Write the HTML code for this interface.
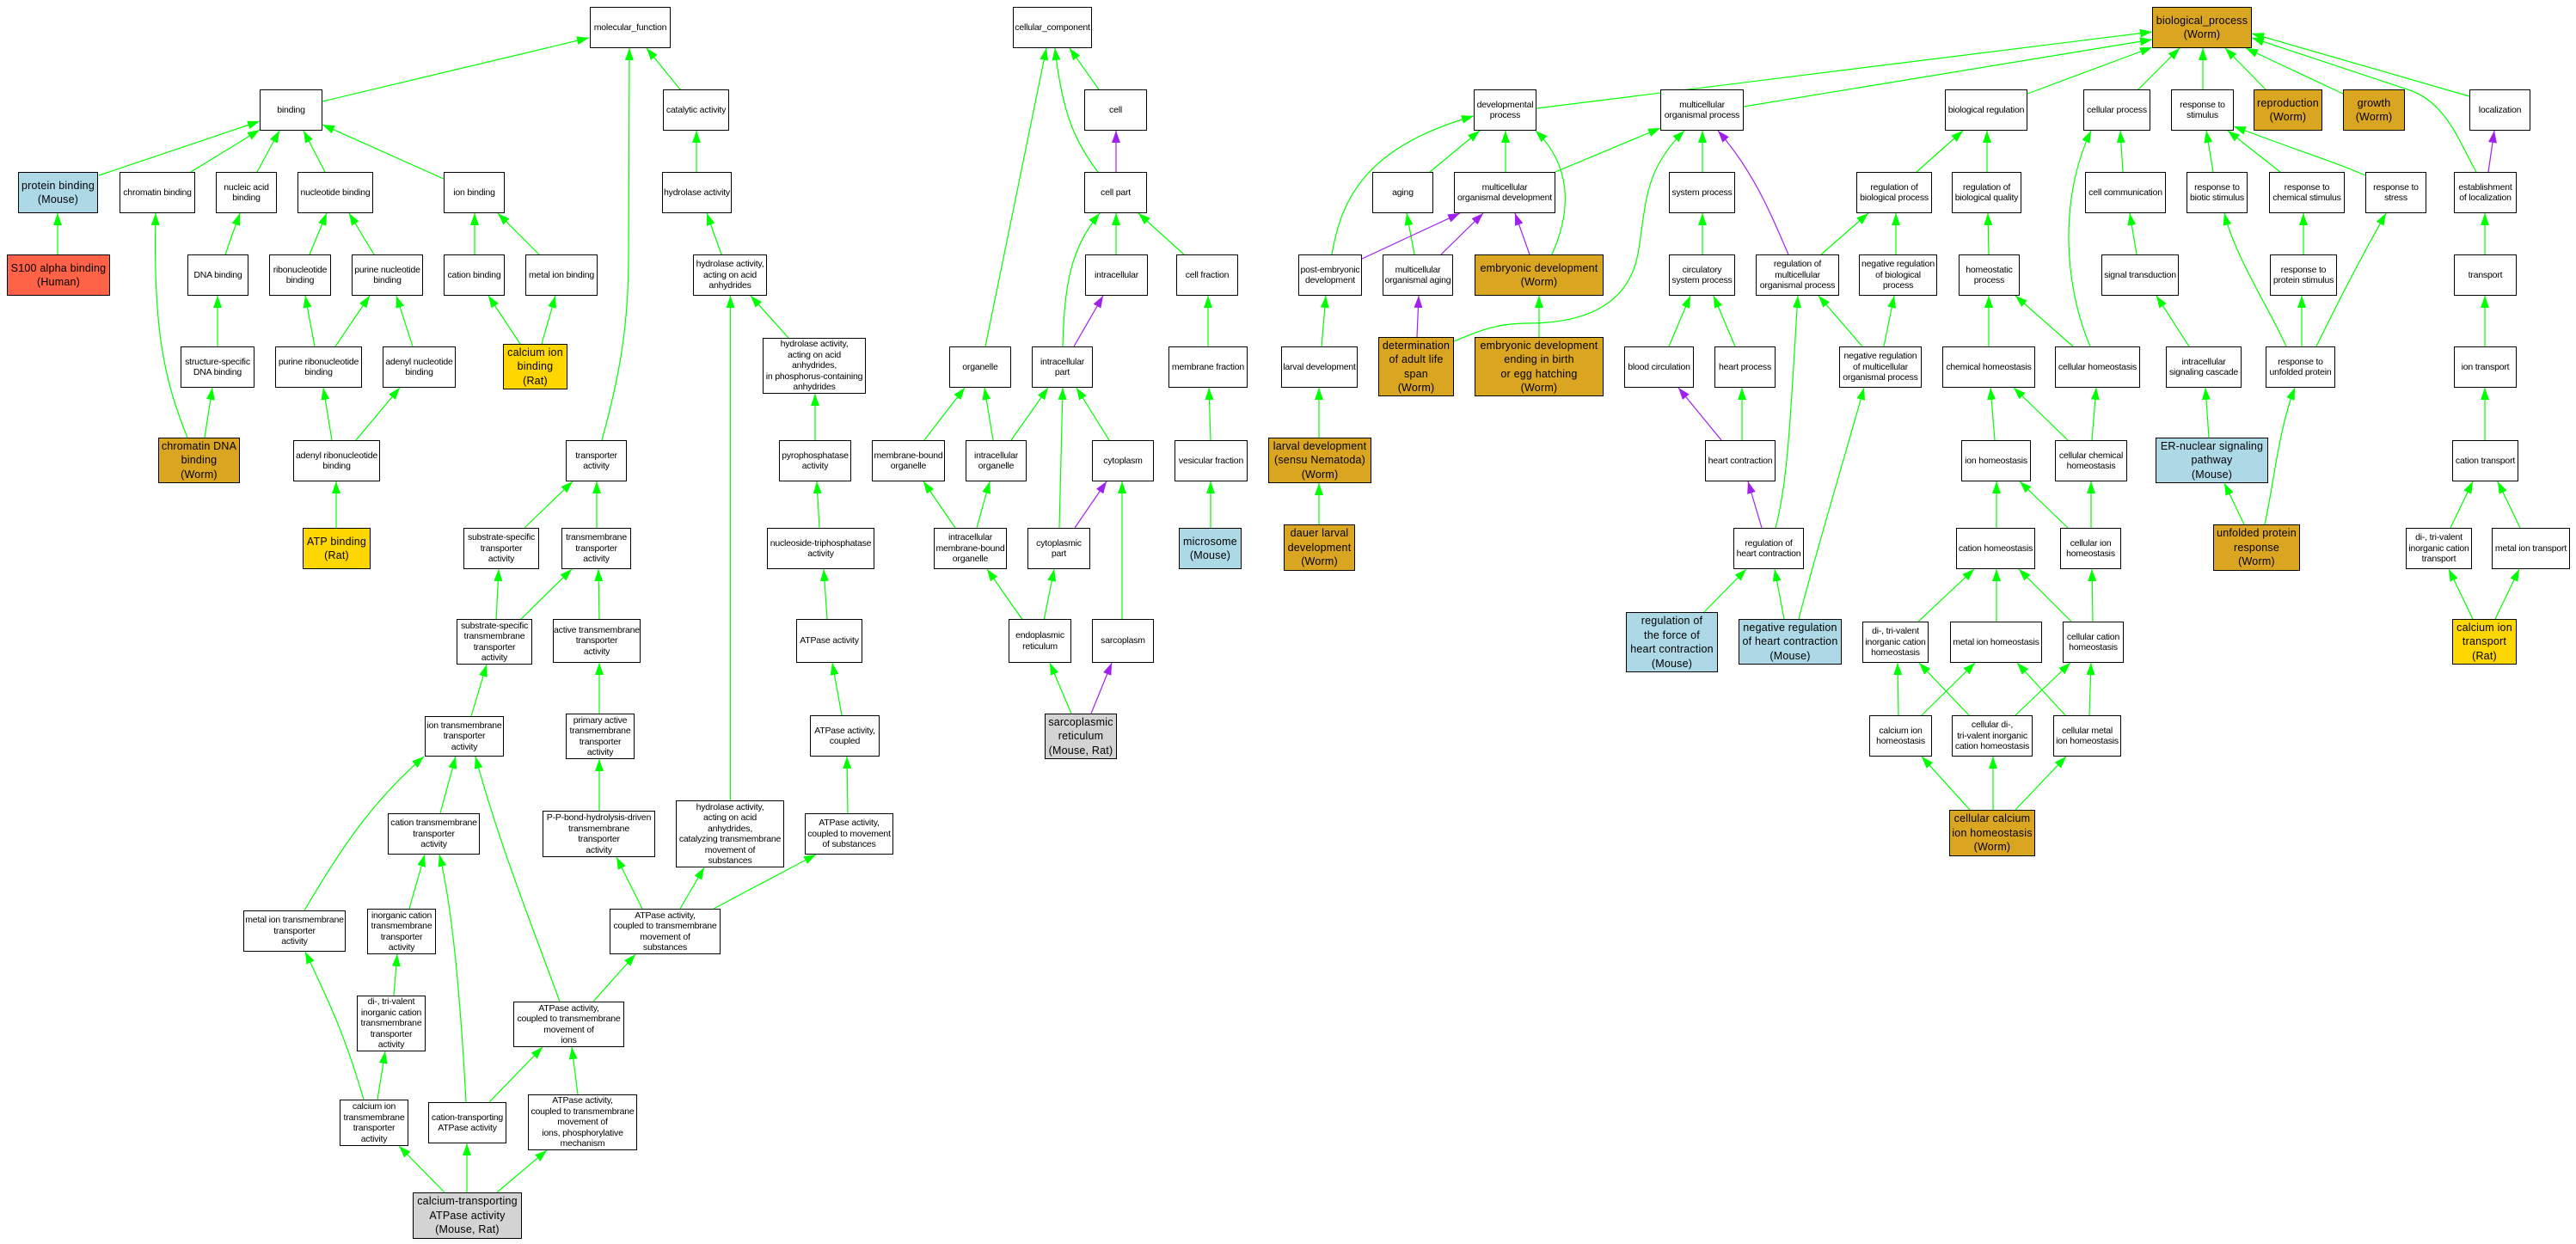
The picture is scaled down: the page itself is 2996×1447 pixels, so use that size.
<!DOCTYPE html>
<html><head><meta charset="utf-8"><style>
html,body{margin:0;padding:0;background:#fff;}
#c{position:relative;width:2996px;height:1447px;overflow:hidden;background:#fff;}
svg{position:absolute;left:0;top:0;}
.n{position:absolute;box-sizing:border-box;border:1px solid #000;background:#fff;display:flex;align-items:center;justify-content:center;text-align:center;font-family:"Liberation Sans",Arial,sans-serif;font-size:10.5px;line-height:12.5px;white-space:nowrap;color:#000;letter-spacing:-0.2px;}
.b{font-size:12.5px;line-height:16.5px;letter-spacing:0.2px;border-width:1.5px;}
.lb{background:#add8e6}.tm{background:#ff6347}.gd{background:#ffd700}.gr{background:#daa520}.lg{background:#d3d3d3}
</style></head><body><div id="c">
<svg width="2996" height="1447" viewBox="0 0 2996 1447">
<defs>
<marker id="g" markerUnits="userSpaceOnUse" markerWidth="14" markerHeight="10" refX="14" refY="5" orient="auto"><path d="M0,0 L14,5 L0,10 z" fill="#00ff00"/></marker>
<marker id="p" markerUnits="userSpaceOnUse" markerWidth="14" markerHeight="10" refX="14" refY="5" orient="auto"><path d="M0,0 L14,5 L0,10 z" fill="#a020f0"/></marker>
</defs>
<g fill="none" stroke="#00ff00" stroke-width="1.2" marker-end="url(#g)">
<path d="M375,118 L685,44"/>
<path d="M115,204 L302,141"/>
<path d="M222,200 L302,151"/>
<path d="M299,200 L325,152"/>
<path d="M378,200 L353,152"/>
<path d="M516,208 L375,145"/>
<path d="M67,296 L67,248"/>
<path d="M262,296 L279,248"/>
<path d="M360,296 L380,248"/>
<path d="M435,296 L406,248"/>
<path d="M552,296 L552,248"/>
<path d="M627,296 L579,248"/>
<path d="M218,509 C190,440 178,380 181,248"/>
<path d="M253,403 L253,344"/>
<path d="M238,509 L247,451"/>
<path d="M366,403 L355,344"/>
<path d="M390,403 L430,344"/>
<path d="M480,403 L461,344"/>
<path d="M605,400 L568,344"/>
<path d="M630,400 L646,344"/>
<path d="M386,512 L376,451"/>
<path d="M414,512 L465,451"/>
<path d="M391,614 L391,560"/>
<path d="M700,512 C720,440 731,380 731,300 L732,56"/>
<path d="M610,614 L666,560"/>
<path d="M694,614 L694,560"/>
<path d="M577,722 L580,662"/>
<path d="M604,722 L665,662"/>
<path d="M697,722 L696,662"/>
<path d="M791,104 L752,56"/>
<path d="M810,200 L810,152"/>
<path d="M839,296 L822,248"/>
<path d="M917,393 L873,344"/>
<path d="M849.5,931 L849.5,344"/>
<path d="M948,512 L948,458"/>
<path d="M953,614 L950,560"/>
<path d="M962,720 L958,662"/>
<path d="M1278,104 L1244,56"/>
<path d="M1146,403 L1217,56"/>
<path d="M1277,200 C1250,165 1235,130 1227,56"/>
<path d="M1298,296 L1298,248"/>
<path d="M1377,296 L1324,248"/>
<path d="M1236,403 C1238,330 1245,290 1279,248"/>
<path d="M1405,403 L1405,344"/>
<path d="M1075,512 L1122,451"/>
<path d="M1155,512 L1145,451"/>
<path d="M1176,512 L1219,451"/>
<path d="M1232,614 L1236,451"/>
<path d="M1290,512 L1252,451"/>
<path d="M1408,512 L1406,451"/>
<path d="M1111,614 L1074,560"/>
<path d="M1136,614 L1151,560"/>
<path d="M1408,614 L1408,560"/>
<path d="M1190,722 L1148,662"/>
<path d="M1214,722 L1226,662"/>
<path d="M1305,720 L1305,560"/>
<path d="M979,832 L968,771"/>
<path d="M1246,830 L1221,771"/>
<path d="M986,946 L985,880"/>
<path d="M791,1057 L819,1009"/>
<path d="M830,1057 L949,994"/>
<path d="M548,833 L566,773"/>
<path d="M697,830 L697,771"/>
<path d="M697,943 L697,883"/>
<path d="M512,946 L530,880"/>
<path d="M749,1061 L717,997"/>
<path d="M354,1059 C395,990 430,935 493,880"/>
<path d="M476,1057 L494,994"/>
<path d="M651,1165 C620,1080 580,980 553,880"/>
<path d="M690,1165 L739,1110"/>
<path d="M458,1158 L462,1110"/>
<path d="M423,1279 C400,1200 380,1160 355,1107"/>
<path d="M439,1279 L448,1223"/>
<path d="M542,1282 C535,1150 525,1050 511,994"/>
<path d="M569,1282 L631,1218"/>
<path d="M672,1273 L665,1218"/>
<path d="M517,1387 L464,1333"/>
<path d="M543,1387 L543,1330"/>
<path d="M578,1387 L636,1338"/>
<path d="M1787,126 L2503,37"/>
<path d="M2028,124 L2503,46"/>
<path d="M1663,200 L1721,152"/>
<path d="M1751,200 L1751,152"/>
<path d="M1809,200 L1931,149"/>
<path d="M1549,296 C1560,230 1590,170 1714,135"/>
<path d="M1645,296 L1636,248"/>
<path d="M1805,296 C1830,240 1825,190 1786,152"/>
<path d="M1980,200 L1980,152"/>
<path d="M1691,397 C1720,385 1740,376 1777,376 C1850,376 1895,350 1905,295 C1915,240 1910,200 1959,152"/>
<path d="M1790,392 L1790,344"/>
<path d="M1537,403 L1542,344"/>
<path d="M1534,509 L1534,451"/>
<path d="M1534,610 L1534,562"/>
<path d="M1980,296 L1980,248"/>
<path d="M1941,403 L1966,344"/>
<path d="M2018,403 L1993,344"/>
<path d="M2026,512 L2026,451"/>
<path d="M2065,614 C2080,560 2083,470 2091,344"/>
<path d="M2118,296 L2173,248"/>
<path d="M2205,296 L2205,248"/>
<path d="M2166,403 L2115,344"/>
<path d="M2191,403 L2203,344"/>
<path d="M2229,200 L2283,152"/>
<path d="M1982,712 L2031,662"/>
<path d="M2075,720 L2064,662"/>
<path d="M2092,720 C2110,650 2140,550 2168,451"/>
<path d="M2231,723 L2296,662"/>
<path d="M2208,832 L2207,771"/>
<path d="M2235,832 L2297,771"/>
<path d="M2291,942 L2235,880"/>
<path d="M2318,942 L2318,880"/>
<path d="M2344,942 L2403,880"/>
<path d="M2322,723 L2322,662"/>
<path d="M2409,723 L2348,662"/>
<path d="M2434,723 L2433,662"/>
<path d="M2290,832 L2232,771"/>
<path d="M2344,832 L2408,771"/>
<path d="M2402,832 L2346,771"/>
<path d="M2430,832 L2432,771"/>
<path d="M2322,614 L2322,560"/>
<path d="M2405,614 L2349,560"/>
<path d="M2432,614 L2432,560"/>
<path d="M2610,610 L2587,562"/>
<path d="M2634,610 C2645,560 2650,500 2669,451"/>
<path d="M2850,614 L2876,560"/>
<path d="M2931,614 L2905,560"/>
<path d="M2876,720 L2848,662"/>
<path d="M2902,720 L2930,662"/>
<path d="M2358,109 L2503,55"/>
<path d="M2487,104 L2535,56"/>
<path d="M2562,104 L2562,56"/>
<path d="M2635,104 L2588,56"/>
<path d="M2725,109 L2612,56"/>
<path d="M2872,112 L2619,39"/>
<path d="M2880,200 C2860,165 2845,118 2800,104 L2619,44"/>
<path d="M2311,200 L2311,152"/>
<path d="M2469,200 L2466,152"/>
<path d="M2574,200 L2566,152"/>
<path d="M2652,200 L2591,152"/>
<path d="M2751,204 C2720,190 2680,178 2598,147"/>
<path d="M2313,296 L2312,248"/>
<path d="M2485,296 L2477,248"/>
<path d="M2679,296 L2679,248"/>
<path d="M2890,296 L2890,248"/>
<path d="M2313,403 L2313,344"/>
<path d="M2411,403 L2344,344"/>
<path d="M2431,403 C2400,330 2395,230 2432,152"/>
<path d="M2546,403 L2508,344"/>
<path d="M2659,403 C2640,360 2600,300 2587,248"/>
<path d="M2677,403 L2677,344"/>
<path d="M2694,403 C2710,370 2740,310 2775,248"/>
<path d="M2890,403 L2890,344"/>
<path d="M2320,512 L2315,451"/>
<path d="M2405,512 L2342,451"/>
<path d="M2433,512 L2438,451"/>
<path d="M2569,509 L2565,451"/>
<path d="M2890,512 L2890,451"/>
</g>
<g fill="none" stroke="#a020f0" stroke-width="1.2" marker-end="url(#p)">
<path d="M1298,200 L1298,152"/>
<path d="M1249,403 L1283,344"/>
<path d="M1250,614 L1287,560"/>
<path d="M1269,830 L1293,771"/>
<path d="M1584,301 L1698,248"/>
<path d="M1676,296 L1725,248"/>
<path d="M1779,296 L1762,248"/>
<path d="M2080,296 C2060,250 2040,200 1998,152"/>
<path d="M1648,392 L1650,344"/>
<path d="M2002,512 L1952,451"/>
<path d="M2049,614 L2033,560"/>
<path d="M2894,200 L2901,152"/>
</g>
</svg>

<div class="n" style="left:686px;top:8px;width:94px;height:48px">molecular_function</div>
<div class="n" style="left:302px;top:104px;width:73px;height:48px">binding</div>
<div class="n" style="left:139px;top:200px;width:88px;height:48px">chromatin binding</div>
<div class="n" style="left:251px;top:200px;width:71px;height:48px">nucleic acid<br>binding</div>
<div class="n" style="left:346px;top:200px;width:88px;height:48px">nucleotide binding</div>
<div class="n" style="left:516px;top:200px;width:71px;height:48px">ion binding</div>
<div class="n" style="left:218px;top:296px;width:71px;height:48px">DNA binding</div>
<div class="n" style="left:313px;top:296px;width:72px;height:48px">ribonucleotide<br>binding</div>
<div class="n" style="left:409px;top:296px;width:83px;height:48px">purine nucleotide<br>binding</div>
<div class="n" style="left:516px;top:296px;width:71px;height:48px">cation binding</div>
<div class="n" style="left:611px;top:296px;width:84px;height:48px">metal ion binding</div>
<div class="n" style="left:210px;top:403px;width:86px;height:48px">structure-specific<br>DNA binding</div>
<div class="n" style="left:320px;top:403px;width:101px;height:48px">purine ribonucleotide<br>binding</div>
<div class="n" style="left:445px;top:403px;width:85px;height:48px">adenyl nucleotide<br>binding</div>
<div class="n" style="left:341px;top:512px;width:101px;height:48px">adenyl ribonucleotide<br>binding</div>
<div class="n" style="left:658px;top:512px;width:71px;height:48px">transporter<br>activity</div>
<div class="n" style="left:539px;top:614px;width:88px;height:48px">substrate-specific<br>transporter<br>activity</div>
<div class="n" style="left:653px;top:614px;width:81px;height:48px">transmembrane<br>transporter<br>activity</div>
<div class="n" style="left:531px;top:720px;width:88px;height:53px">substrate-specific<br>transmembrane<br>transporter<br>activity</div>
<div class="n" style="left:643px;top:720px;width:102px;height:51px">active transmembrane<br>transporter<br>activity</div>
<div class="n" style="left:494px;top:833px;width:92px;height:47px">ion transmembrane<br>transporter<br>activity</div>
<div class="n" style="left:658px;top:830px;width:80px;height:53px">primary active<br>transmembrane<br>transporter<br>activity</div>
<div class="n" style="left:451px;top:946px;width:107px;height:48px">cation transmembrane<br>transporter<br>activity</div>
<div class="n" style="left:631px;top:943px;width:131px;height:54px">P-P-bond-hydrolysis-driven<br>transmembrane<br>transporter<br>activity</div>
<div class="n" style="left:283px;top:1059px;width:119px;height:48px">metal ion transmembrane<br>transporter<br>activity</div>
<div class="n" style="left:427px;top:1057px;width:80px;height:53px">inorganic cation<br>transmembrane<br>transporter<br>activity</div>
<div class="n" style="left:709px;top:1057px;width:129px;height:53px">ATPase activity,<br>coupled to transmembrane<br>movement of<br>substances</div>
<div class="n" style="left:415px;top:1158px;width:80px;height:65px">di-, tri-valent<br>inorganic cation<br>transmembrane<br>transporter<br>activity</div>
<div class="n" style="left:597px;top:1165px;width:129px;height:53px">ATPase activity,<br>coupled to transmembrane<br>movement of<br>ions</div>
<div class="n" style="left:395px;top:1279px;width:80px;height:54px">calcium ion<br>transmembrane<br>transporter<br>activity</div>
<div class="n" style="left:498px;top:1282px;width:91px;height:48px">cation-transporting<br>ATPase activity</div>
<div class="n" style="left:614px;top:1273px;width:127px;height:65px">ATPase activity,<br>coupled to transmembrane<br>movement of<br>ions, phosphorylative<br>mechanism</div>
<div class="n" style="left:771px;top:104px;width:77px;height:48px">catalytic activity</div>
<div class="n" style="left:770px;top:200px;width:81px;height:48px">hydrolase activity</div>
<div class="n" style="left:806px;top:296px;width:86px;height:48px">hydrolase activity,<br>acting on acid<br>anhydrides</div>
<div class="n" style="left:887px;top:393px;width:120px;height:65px">hydrolase activity,<br>acting on acid<br>anhydrides,<br>in phosphorus-containing<br>anhydrides</div>
<div class="n" style="left:906px;top:512px;width:84px;height:48px">pyrophosphatase<br>activity</div>
<div class="n" style="left:892px;top:614px;width:125px;height:48px">nucleoside-triphosphatase<br>activity</div>
<div class="n" style="left:926px;top:720px;width:77px;height:51px">ATPase activity</div>
<div class="n" style="left:942px;top:832px;width:81px;height:48px">ATPase activity,<br>coupled</div>
<div class="n" style="left:786px;top:931px;width:126px;height:78px">hydrolase activity,<br>acting on acid<br>anhydrides,<br>catalyzing transmembrane<br>movement of<br>substances</div>
<div class="n" style="left:936px;top:946px;width:103px;height:48px">ATPase activity,<br>coupled to movement<br>of substances</div>
<div class="n" style="left:1178px;top:8px;width:92px;height:48px">cellular_component</div>
<div class="n" style="left:1261px;top:104px;width:73px;height:48px">cell</div>
<div class="n" style="left:1261px;top:200px;width:73px;height:48px">cell part</div>
<div class="n" style="left:1262px;top:296px;width:73px;height:48px">intracellular</div>
<div class="n" style="left:1368px;top:296px;width:72px;height:48px">cell fraction</div>
<div class="n" style="left:1104px;top:403px;width:72px;height:48px">organelle</div>
<div class="n" style="left:1200px;top:403px;width:71px;height:48px">intracellular<br>part</div>
<div class="n" style="left:1359px;top:403px;width:92px;height:48px">membrane fraction</div>
<div class="n" style="left:1014px;top:512px;width:85px;height:48px">membrane-bound<br>organelle</div>
<div class="n" style="left:1123px;top:512px;width:71px;height:48px">intracellular<br>organelle</div>
<div class="n" style="left:1270px;top:512px;width:72px;height:48px">cytoplasm</div>
<div class="n" style="left:1366px;top:512px;width:85px;height:48px">vesicular fraction</div>
<div class="n" style="left:1086px;top:614px;width:85px;height:48px">intracellular<br>membrane-bound<br>organelle</div>
<div class="n" style="left:1195px;top:614px;width:73px;height:48px">cytoplasmic<br>part</div>
<div class="n" style="left:1173px;top:720px;width:73px;height:51px">endoplasmic<br>reticulum</div>
<div class="n" style="left:1270px;top:720px;width:72px;height:51px">sarcoplasm</div>
<div class="n" style="left:1714px;top:104px;width:73px;height:48px">developmental<br>process</div>
<div class="n" style="left:1931px;top:104px;width:97px;height:48px">multicellular<br>organismal process</div>
<div class="n" style="left:1596px;top:200px;width:71px;height:48px">aging</div>
<div class="n" style="left:1691px;top:200px;width:118px;height:48px">multicellular<br>organismal development</div>
<div class="n" style="left:1941px;top:200px;width:77px;height:48px">system process</div>
<div class="n" style="left:2159px;top:200px;width:88px;height:48px">regulation of<br>biological process</div>
<div class="n" style="left:1510px;top:296px;width:74px;height:48px">post-embryonic<br>development</div>
<div class="n" style="left:1608px;top:296px;width:82px;height:48px">multicellular<br>organismal aging</div>
<div class="n" style="left:1941px;top:296px;width:77px;height:48px">circulatory<br>system process</div>
<div class="n" style="left:2042px;top:296px;width:97px;height:48px">regulation of<br>multicellular<br>organismal process</div>
<div class="n" style="left:2162px;top:296px;width:91px;height:48px">negative regulation<br>of biological<br>process</div>
<div class="n" style="left:1490px;top:403px;width:89px;height:48px">larval development</div>
<div class="n" style="left:1889px;top:403px;width:81px;height:48px">blood circulation</div>
<div class="n" style="left:1994px;top:403px;width:71px;height:48px">heart process</div>
<div class="n" style="left:2139px;top:403px;width:96px;height:48px">negative regulation<br>of multicellular<br>organismal process</div>
<div class="n" style="left:1983px;top:512px;width:82px;height:48px">heart contraction</div>
<div class="n" style="left:2016px;top:614px;width:82px;height:48px">regulation of<br>heart contraction</div>
<div class="n" style="left:2166px;top:723px;width:77px;height:48px">di-, tri-valent<br>inorganic cation<br>homeostasis</div>
<div class="n" style="left:2174px;top:832px;width:73px;height:48px">calcium ion<br>homeostasis</div>
<div class="n" style="left:2262px;top:104px;width:96px;height:48px">biological regulation</div>
<div class="n" style="left:2423px;top:104px;width:78px;height:48px">cellular process</div>
<div class="n" style="left:2525px;top:104px;width:73px;height:48px">response to<br>stimulus</div>
<div class="n" style="left:2872px;top:104px;width:71px;height:48px">localization</div>
<div class="n" style="left:2270px;top:200px;width:81px;height:48px">regulation of<br>biological quality</div>
<div class="n" style="left:2425px;top:200px;width:94px;height:48px">cell communication</div>
<div class="n" style="left:2543px;top:200px;width:71px;height:48px">response to<br>biotic stimulus</div>
<div class="n" style="left:2639px;top:200px;width:88px;height:48px">response to<br>chemical stimulus</div>
<div class="n" style="left:2751px;top:200px;width:71px;height:48px">response to<br>stress</div>
<div class="n" style="left:2854px;top:200px;width:73px;height:48px">establishment<br>of localization</div>
<div class="n" style="left:2278px;top:296px;width:71px;height:48px">homeostatic<br>process</div>
<div class="n" style="left:2444px;top:296px;width:90px;height:48px">signal transduction</div>
<div class="n" style="left:2640px;top:296px;width:78px;height:48px">response to<br>protein stimulus</div>
<div class="n" style="left:2854px;top:296px;width:73px;height:48px">transport</div>
<div class="n" style="left:2259px;top:403px;width:108px;height:48px">chemical homeostasis</div>
<div class="n" style="left:2390px;top:403px;width:99px;height:48px">cellular homeostasis</div>
<div class="n" style="left:2519px;top:403px;width:88px;height:48px">intracellular<br>signaling cascade</div>
<div class="n" style="left:2635px;top:403px;width:81px;height:48px">response to<br>unfolded protein</div>
<div class="n" style="left:2854px;top:403px;width:73px;height:48px">ion transport</div>
<div class="n" style="left:2281px;top:512px;width:81px;height:48px">ion homeostasis</div>
<div class="n" style="left:2390px;top:512px;width:84px;height:48px">cellular chemical<br>homeostasis</div>
<div class="n" style="left:2852px;top:512px;width:77px;height:48px">cation transport</div>
<div class="n" style="left:2275px;top:614px;width:92px;height:48px">cation homeostasis</div>
<div class="n" style="left:2396px;top:614px;width:71px;height:48px">cellular ion<br>homeostasis</div>
<div class="n" style="left:2798px;top:614px;width:77px;height:48px">di-, tri-valent<br>inorganic cation<br>transport</div>
<div class="n" style="left:2898px;top:614px;width:91px;height:48px">metal ion transport</div>
<div class="n" style="left:2268px;top:723px;width:107px;height:48px">metal ion homeostasis</div>
<div class="n" style="left:2399px;top:723px;width:71px;height:48px">cellular cation<br>homeostasis</div>
<div class="n" style="left:2270px;top:832px;width:94px;height:48px">cellular di-,<br>tri-valent inorganic<br>cation homeostasis</div>
<div class="n" style="left:2388px;top:832px;width:79px;height:48px">cellular metal<br>ion homeostasis</div>

<div class="n b lb" style="left:21px;top:200px;width:93px;height:48px">protein binding<br>(Mouse)</div>
<div class="n b tm" style="left:8px;top:296px;width:120px;height:48px">S100 alpha binding<br>(Human)</div>
<div class="n b gd" style="left:585px;top:400px;width:75px;height:53px">calcium ion<br>binding<br>(Rat)</div>
<div class="n b gr" style="left:184px;top:509px;width:95px;height:53px">chromatin DNA<br>binding<br>(Worm)</div>
<div class="n b gd" style="left:352px;top:614px;width:79px;height:48px">ATP binding<br>(Rat)</div>
<div class="n b lg" style="left:480px;top:1387px;width:127px;height:54px">calcium-transporting<br>ATPase activity<br>(Mouse, Rat)</div>
<div class="n b lb" style="left:1371px;top:614px;width:73px;height:48px">microsome<br>(Mouse)</div>
<div class="n b lg" style="left:1215px;top:830px;width:84px;height:53px">sarcoplasmic<br>reticulum<br>(Mouse, Rat)</div>
<div class="n b gr" style="left:1715px;top:296px;width:150px;height:48px">embryonic development<br>(Worm)</div>
<div class="n b gr" style="left:1603px;top:392px;width:88px;height:69px">determination<br>of adult life<br>span<br>(Worm)</div>
<div class="n b gr" style="left:1715px;top:392px;width:150px;height:69px">embryonic development<br>ending in birth<br>or egg hatching<br>(Worm)</div>
<div class="n b gr" style="left:1475px;top:509px;width:120px;height:53px">larval development<br>(sensu Nematoda)<br>(Worm)</div>
<div class="n b gr" style="left:1493px;top:610px;width:83px;height:54px">dauer larval<br>development<br>(Worm)</div>
<div class="n b lb" style="left:1891px;top:712px;width:107px;height:70px">regulation of<br>the force of<br>heart contraction<br>(Mouse)</div>
<div class="n b lb" style="left:2022px;top:720px;width:120px;height:53px">negative regulation<br>of heart contraction<br>(Mouse)</div>
<div class="n b gr" style="left:2503px;top:8px;width:116px;height:48px">biological_process<br>(Worm)</div>
<div class="n b gr" style="left:2621px;top:104px;width:80px;height:48px">reproduction<br>(Worm)</div>
<div class="n b gr" style="left:2725px;top:104px;width:72px;height:48px">growth<br>(Worm)</div>
<div class="n b lb" style="left:2507px;top:509px;width:131px;height:53px">ER-nuclear signaling<br>pathway<br>(Mouse)</div>
<div class="n b gr" style="left:2574px;top:610px;width:101px;height:54px">unfolded protein<br>response<br>(Worm)</div>
<div class="n b gd" style="left:2852px;top:720px;width:75px;height:53px">calcium ion<br>transport<br>(Rat)</div>
<div class="n b gr" style="left:2267px;top:942px;width:100px;height:54px">cellular calcium<br>ion homeostasis<br>(Worm)</div>
</div></body></html>
